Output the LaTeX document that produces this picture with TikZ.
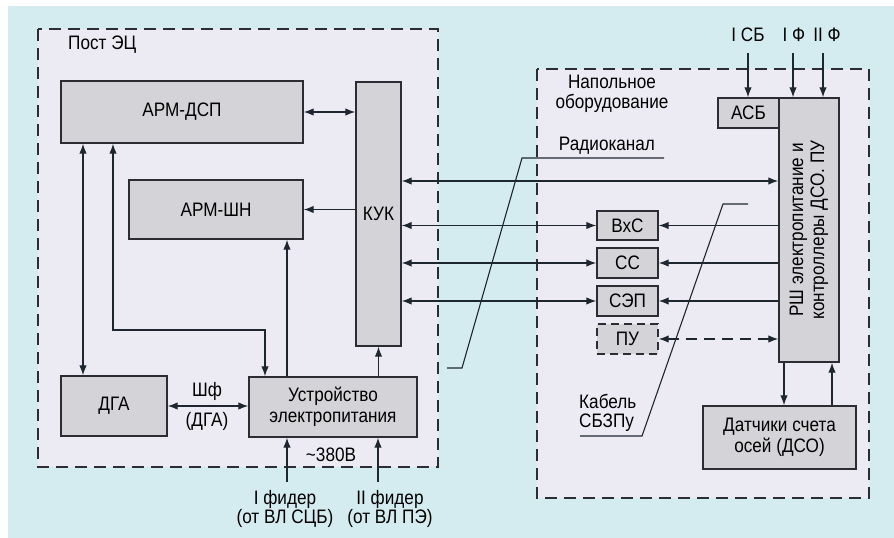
\documentclass[tikz,border=0pt]{standalone}
\usepackage{fontspec}
\setmainfont{Liberation Sans}[FakeStretch=0.88]
\usetikzlibrary{arrows.meta}

\newcommand{\boxfont}{\fontsize{19.5}{21}\selectfont}
\newcommand{\tagfont}{\fontsize{19.5}{19.5}\selectfont}

\begin{document}
\begin{tikzpicture}[x=1pt, y=-1pt,
    block/.style={draw=borderColour, fill=fillColour, line width=1.4pt, inner sep=0pt, align=center, font=\boxfont},
    zone/.style={draw=borderColour, fill=zoneColour, line width=1.6pt, dash pattern=on 12pt off 7pt},
    link/.style={draw=lineColour, line width=1.3pt},
    oneway/.style={link, -{Latex[length=10pt,width=7.5pt]}},
    twoway/.style={link, {Latex[length=10pt,width=7.5pt]}-{Latex[length=10pt,width=7.5pt]}},
    tag/.style={font=\tagfont, align=center, inner sep=0pt}]
    % Define colours
    \definecolor{bgColour}{HTML}{D4ECEF}
    \definecolor{zoneColour}{HTML}{ECEBF3}
    \definecolor{fillColour}{HTML}{D4D3D7}
    \definecolor{borderColour}{HTML}{2C2D33}
    \definecolor{lineColour}{HTML}{1E2630}

    % Background and page size
    \fill[white] (0,0) rectangle (894,538);
    \fill[bgColour] (8,6) rectangle (894,538);
    \useasboundingbox (0,0) rectangle (894,538);

    % Dashed zones
    \draw[zone] (38,29) rectangle (438,467);
    \draw[zone] (537,69) rectangle (869,498);
    \node[tag, anchor=west] (postlbl) at (68,45) {Пост ЭЦ};
    \node[tag] (floorlbl) at (612,94) {Напольное\\оборудование};

    % Blocks of the post
    \node[block, minimum width=242pt, minimum height=62pt] (armdsp) at (182,112) {АРМ-ДСП};
    \node[block, minimum width=174pt, minimum height=59pt] (armshn) at (216,209.5) {АРМ-ШН};
    \node[block, minimum width=45pt, minimum height=264pt] (kuk) at (378.5,214) {КУК};
    \node[block, minimum width=106pt, minimum height=60pt] (dga) at (114,406) {ДГА};
    \node[block, minimum width=168pt, minimum height=60pt] (power) at (333,407) {Устройство\\электропитания};

    % Blocks of the floor equipment
    \node[block, minimum width=61pt, minimum height=30pt] (asb) at (748.5,113) {АСБ};
    \node[block, minimum width=60pt, minimum height=264pt] (rsh) at (809,230) {};
    \node[tag, rotate=90, font=\boxfont] (rshlbl) at (rsh.center) {РШ электропитание и\\контроллеры ДСО. ПУ};
    \node[block, minimum width=61pt, minimum height=29pt] (vxs) at (627.5,225.5) {ВхС};
    \node[block, minimum width=61pt, minimum height=30pt] (ss) at (627.5,263) {СС};
    \node[block, minimum width=61pt, minimum height=30pt] (sep) at (627.5,301) {СЭП};
    \node[block, minimum width=61pt, minimum height=30pt, dash pattern=on 8pt off 5pt] (pu) at (627.5,339) {ПУ};
    \node[block, minimum width=153pt, minimum height=63pt] (dso) at (779.5,437.5) {Датчики счета\\осей (ДСО)};

    % Links inside the post
    \draw[twoway] (armdsp.east) -- (kuk.west |- armdsp.east);
    \draw[oneway] (kuk.west |- armshn.east) -- (armshn.east);
    \draw[twoway] (armdsp.south -| 83,0) -- (dga.north -| 83,0);
    \draw[twoway] (armdsp.south -| 113,0) |- (265,330) -- (power.north -| 265,0);
    \draw[oneway] (power.north -| 287,0) -- (armshn.south -| 287,0);
    \draw[oneway] (power.north -| kuk.south) -- (kuk.south);
    \draw[twoway] (dga.east) -- (power.west |- dga.east);
    \node[tag, anchor=south] (shf) at (207,401) {Шф};
    \node[tag, anchor=north] (shfdga) at (207,412) {(ДГА)};

    % Feeders
    \coordinate (feedA) at (287,482);
    \coordinate (feedB) at (378,482);
    \draw[oneway] (feedA) -- (power.south -| feedA);
    \draw[oneway] (feedB) -- (power.south -| feedB);
    \node[tag] (voltage) at (331,455) {\textasciitilde380В};
    \node[tag, anchor=north] (feedAlbl) at (285,490) {I фидер\\(от ВЛ СЦБ)};
    \node[tag, anchor=north] (feedBlbl) at (390,490) {II фидер\\(от ВЛ ПЭ)};

    % Links between the post and the floor equipment
    \draw[twoway] (kuk.east |- 0,181) -- (rsh.west |- 0,181);
    \foreach \blk in {vxs, ss, sep} {
        \draw[twoway] (kuk.east |- \blk.west) -- (\blk.west);
        \draw[oneway] (rsh.west |- \blk.east) -- (\blk.east);
    }
    \draw[twoway, dash pattern=on 11pt off 7pt] (pu.east) -- (rsh.west |- pu.east);

    % Axle counters
    \draw[oneway] (rsh.south -| 784,0) -- (dso.north -| 784,0);
    \draw[oneway] (dso.north -| 832,0) -- (rsh.south -| 832,0);

    % Supply inputs on top
    \node[tag] (isb) at (748,35) {I СБ};
    \node[tag] (iph) at (794,35) {I Ф};
    \node[tag] (iiph) at (827,35) {II Ф};
    \draw[oneway] (748,53) -- (asb.north -| 748,0);
    \draw[oneway] (793,53) -- (rsh.north -| 793,0);
    \draw[oneway] (823,53) -- (rsh.north -| 823,0);

    % Radio channel and cable leaders
    \draw[link, line width=1.1pt] (447,368) -- (462,368) -- (522,158) -- (664,158);
    \node[tag] (radio) at (607,146) {Радиоканал};
    \draw[link, line width=1.1pt] (580,436) -- (642,436) -- (723,204) -- (748,204);
    \node[tag, anchor=west, align=left] (cable) at (579,413) {Кабель\\СБЗПу};

\end{tikzpicture}
\end{document}
